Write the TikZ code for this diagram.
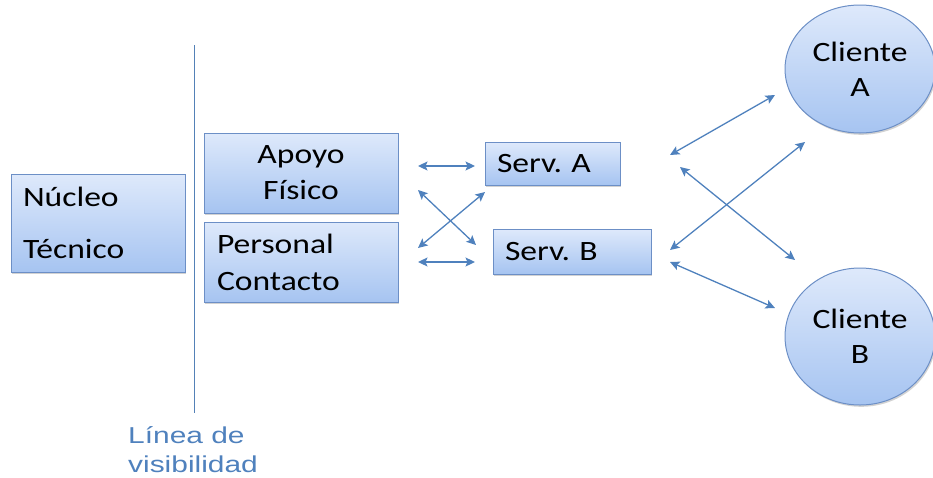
\documentclass[tikz,border=0pt]{standalone}
\usepackage{fontspec}
\usetikzlibrary{arrows.meta,shapes.geometric,shadows}
\newfontfamily\boxfont[FakeStretch=1.2]{Carlito}
\newfontfamily\notefont[FakeStretch=1.3]{Liberation Sans}
\frenchspacing
\definecolor{edgeblue}{RGB}{108,143,198}
\definecolor{topblue}{RGB}{222,233,251}
\definecolor{botblue}{RGB}{166,196,241}
\definecolor{linkblue}{RGB}{79,129,189}
\tikzset{
  softshadow/.style={drop shadow={opacity=0.25,shadow xshift=1.2pt,shadow yshift=-1.8pt,fill=black!70}},
  block/.style={draw=edgeblue,line width=1pt,top color=topblue,bottom color=botblue,
    rectangle,inner sep=0pt,outer sep=0pt,softshadow},
  client/.style={draw=edgeblue,line width=1pt,top color=topblue,bottom color=botblue,
    ellipse,inner sep=0pt,outer sep=0pt,softshadow,align=center},
  link/.style={draw=linkblue,line width=1.3pt,
    {Stealth[length=9.5pt,width=9pt,inset=2pt]}-{Stealth[length=9.5pt,width=9pt,inset=2pt]}},
}
\begin{document}
\begin{tikzpicture}[x=1pt,y=-1pt]
\useasboundingbox (0,0) rectangle (933,477);
\clip (0,0) rectangle (933,477);

% visibility line
\coordinate (vtop) at (194.5,45);
\coordinate (vbot) at (194.5,413);
\draw[draw=linkblue!90!gray,line width=1.4pt] (vtop) -- (vbot);
\node[anchor=base west,text=linkblue,font=\notefont\fontsize{23}{29}\selectfont,align=left,inner sep=0pt]
  (vis) at (128,472) {Línea de\\visibilidad};

% back-office blocks
\node[block,minimum width=174pt,minimum height=98pt,text width=150pt,align=left,
  font=\boxfont\fontsize{28}{52}\selectfont] (nucleo) at (98,223) {Núcleo\\Técnico};
\node[block,minimum width=194pt,minimum height=80pt,text width=170pt,align=center,
  font=\boxfont\fontsize{28}{36}\selectfont] (apoyo) at (301,173) {Apoyo\\Físico};
\node[block,minimum width=194pt,minimum height=80pt,text width=168pt,align=left,
  font=\boxfont\fontsize{28}{37}\selectfont] (personal) at (301,262) {Personal\\Contacto};

% services
\node[block,minimum width=135pt,minimum height=43pt,text width=111pt,align=left,
  font=\boxfont\fontsize{28}{34}\selectfont] (servA) at (552.5,163.5) {Serv. A};
\node[block,minimum width=158pt,minimum height=45pt,text width=134pt,align=left,
  font=\boxfont\fontsize{28}{34}\selectfont] (servB) at (572,251.5) {Serv. B};

% clients
\node[client,minimum width=150pt,minimum height=128pt,
  font=\boxfont\fontsize{28}{35}\selectfont] (cliA) at (860,69) {Cliente\\A};
\node[client,minimum width=150pt,minimum height=137pt,
  font=\boxfont\fontsize{28}{35}\selectfont] (cliB) at (860,336.5) {Cliente\\B};

% connector ends
\coordinate (pa1) at (418,166);   \coordinate (sa1) at (475,166);
\coordinate (pb1) at (418,262);   \coordinate (sb1) at (475,262);
\coordinate (pa2) at (418,190);   \coordinate (sb2) at (476,245);
\coordinate (pb2) at (418,248);   \coordinate (sa2) at (485,192);
\coordinate (sa3) at (670,155);   \coordinate (ca1) at (775,95);
\coordinate (sa4) at (680,167);   \coordinate (cb1) at (795,260);
\coordinate (sb3) at (670,250);   \coordinate (ca2) at (805,142);
\coordinate (sb4) at (670,262);   \coordinate (cb2) at (775,308);

\draw[link] (pa1) -- (sa1);
\draw[link] (pb1) -- (sb1);
\draw[link] (pa2) -- (sb2);
\draw[link] (pb2) -- (sa2);
\draw[link] (sa3) -- (ca1);
\draw[link] (sa4) -- (cb1);
\draw[link] (sb3) -- (ca2);
\draw[link] (sb4) -- (cb2);
\end{tikzpicture}
\end{document}
